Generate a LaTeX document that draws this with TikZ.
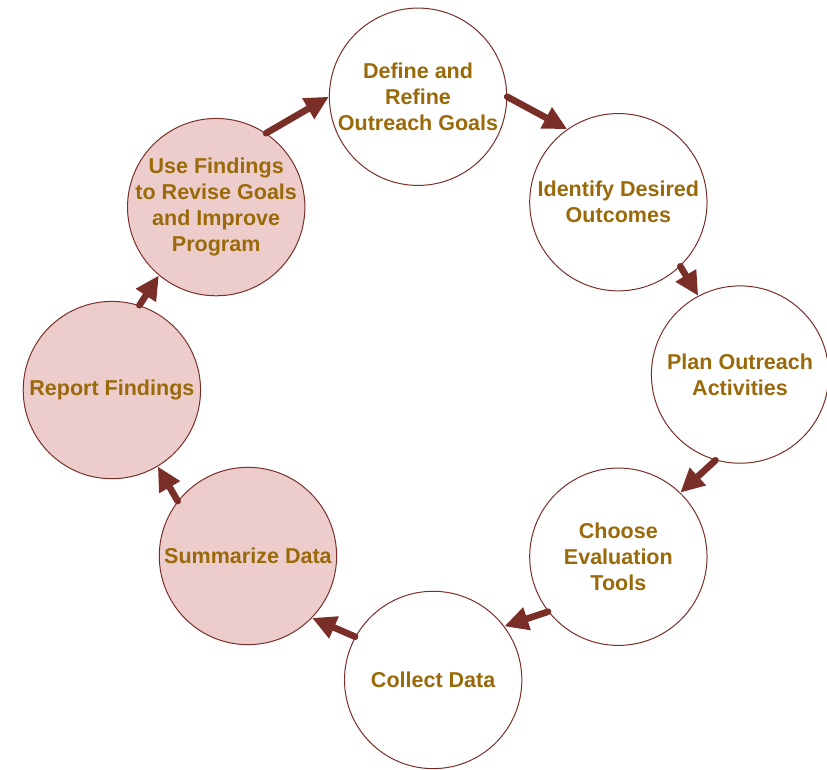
\documentclass[tikz,border=0pt]{standalone}
\usepackage{fontspec}
\setmainfont{Liberation Sans}
\usetikzlibrary{arrows.meta}
\definecolor{maroon}{HTML}{7A2E28}
\definecolor{ochre}{HTML}{9A6A0A}
\definecolor{blush}{HTML}{EDCDCC}

\tikzset{
  stage/.style={circle,draw=maroon,line width=.75pt,fill=white,minimum size=133.5pt,
    inner sep=-6pt,align=center,text=ochre,font=\fontsize{16.2}{19.5}\selectfont\bfseries},
  review/.style={stage,fill=blush},
  flow/.style={draw=maroon,line width=5pt,line cap=round,-{Triangle[length=18pt,width=17pt]}}
}

\begin{document}
\begin{tikzpicture}
  \useasboundingbox (0,0) rectangle (21.88,20.35);

  % planning half of the cycle
  \node[stage] (goals) at (11.06,17.79) {Define and\\Refine\\Outreach Goals};
  \node[stage] (outcomes) at (16.36,15.00) {Identify Desired\\Outcomes};
  \node[stage] (plan) at (19.58,10.44) {Plan Outreach\\Activities};
  \node[stage] (tools) at (16.36,5.62) {Choose\\Evaluation\\Tools};
  \node[stage] (collect) at (11.46,2.36) {Collect Data};

  % evaluation half, shaded
  \node[review] (summarize) at (6.56,5.64) {Summarize Data};
  \node[review] (report) at (2.96,10.03) {Report Findings};
  \node[review] (revise) at (5.72,14.87) {Use Findings\\to Revise Goals\\and Improve\\Program};

  % arrows round the cycle
  \draw[flow] (goals.0) -- (outcomes.125);
  \draw[flow] (outcomes.-46) -- (plan.118);
  \draw[flow] (plan.254) -- (tools.46);
  \draw[flow] (tools.218) -- (collect.37);
  \draw[flow] (collect.151) -- (summarize.-44);
  \draw[flow] (summarize.142) -- (report.-59);
  \draw[flow] (report.72) -- (revise.230);
  \draw[flow] (revise.56) -- (goals.180);
\end{tikzpicture}
\end{document}
